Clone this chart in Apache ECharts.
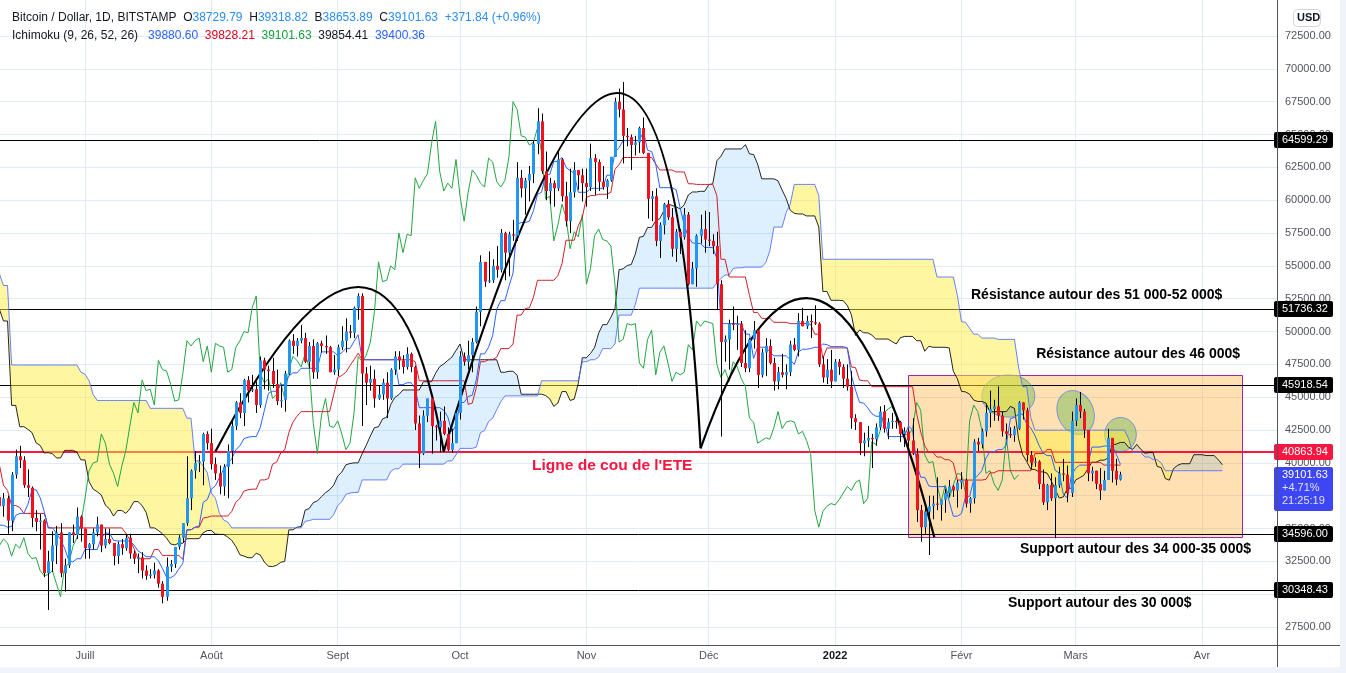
<!DOCTYPE html>
<html lang="fr">
<head>
<meta charset="utf-8">
<title>Bitcoin / Dollar — Ichimoku</title>
<script src="https://cdn.jsdelivr.net/npm/echarts@6/dist/echarts.min.js"></script>
<style>
html,body{margin:0;padding:0;background:#f0f3fa;}
#chart{width:1340px;height:667px;background:#ffffff;}
</style>
</head>
<body>
<div id="chart"></div>
<script>
// ================= DATA =================
const startDate = '2021-03-20';
const firstOpen = 58300;
// daily closes from 2021-03-20 to 2022-03-12 (open = previous close)
const closes = [
  // Mar 20-31 2021
  58100,57400,54100,54300,52300,51300,55000,55800,55900,57600,58800,58900,
  // Apr
  58700,59000,57100,58200,58700,57900,56000,58000,58100,59800,59900,59800,63500,62900,63200,61400,60000,56200,55700,56500,54000,51700,51100,50100,49100,54000,55000,54800,53600,57700,
  // May
  57800,56600,57200,53200,57500,56400,57400,58900,58300,55800,56700,49200,49700,49900,46800,46400,43600,42900,37000,40700,37300,37500,34700,38800,38400,39300,38500,35700,34600,35700,37300,
  // Jun
  36700,37600,39200,36900,35500,35800,33600,33400,37400,36700,37300,35600,39100,40500,40200,38300,38100,35800,35500,35600,31600,32500,33700,34700,31600,32200,34700,34500,35900,35000,
  // Jul
  33500,33800,34700,35300,33700,34200,33900,32900,33800,33500,34300,33100,32700,32800,31800,31400,31500,31800,30800,29800,32100,32300,33600,34300,35400,37300,39400,40000,40100,42200,41500,
  // Aug
  39900,39200,38200,39700,40900,42800,44600,43800,46300,45500,45600,44400,47800,47100,47000,46000,44700,44800,46800,49300,48900,49300,49500,47700,48900,46900,49100,48900,48800,46900,47100,
  // Sep
  48800,49300,50000,49900,51800,52700,46800,46100,46400,44900,45200,46100,44900,47100,48100,47800,47300,48300,47300,43000,40700,43600,44900,42800,42700,43200,42200,41000,41500,43800,
  // Oct
  48100,47700,48200,49200,51500,55300,53800,53900,55000,54700,57500,56000,57400,57300,61700,60900,61500,62000,64300,66000,62200,60700,61300,60900,63100,60300,58400,60600,62300,61900,61300,
  // Nov
  61000,63200,62900,61400,61000,61500,63300,67500,66900,64900,64800,64200,64400,65500,63600,60100,60300,56900,58100,59700,58700,56300,57600,57200,58900,53600,54800,57300,57800,57000,
  // Dec
  56900,56500,53600,49200,49400,50600,50500,50600,47600,47200,49400,50100,46700,48400,48900,47600,46200,46900,46700,46900,49000,48600,50800,50400,50800,50700,50600,47500,46500,47100,46200,
  // Jan 2022
  47700,47300,46400,45800,43400,43100,41500,41700,41900,41800,42700,43900,42600,43100,43200,43100,42200,42400,41700,40700,36400,35100,36300,36700,36900,36800,37200,37700,38200,37900,38500,
  // Feb
  38700,36900,37300,41600,41400,42400,43800,44100,44300,43600,42400,42200,42100,42600,44600,44000,40600,40000,40100,38400,37000,38300,37300,38300,39200,39100,37700,43200,
  // Mar 1-12
  44400,43900,42500,39200,39400,38400,37900,38700,41900,39400,38729.79,39101.63
];
const highs = [
  59900,58600,58400,55800,57200,53200,55100,56600,56600,58400,59400,59800,
  59500,60100,59800,58500,59300,59400,58600,58100,58900,61200,60700,61200,63700,64900,63800,63500,62500,60400,57500,57000,56800,55400,52000,51200,50500,54300,55400,56400,55200,57900,
  58400,57900,58900,57200,57900,58300,58600,59500,59300,59500,57000,58000,51400,51500,50700,49700,46600,45800,43500,42500,42200,38800,38300,39900,39800,40900,40400,38200,37300,36400,37500,
  37900,38200,39500,39200,37900,36500,36800,34100,37500,38400,37700,37500,39300,41000,41300,40500,39500,38200,36400,36100,35700,33300,34800,35200,35400,32700,34700,35300,36600,36000,
  35000,33900,35000,35900,35300,35000,35000,33900,34000,34200,34600,34600,33300,33100,33200,32200,31900,32400,31900,31000,32800,32600,33600,34500,35400,40500,39500,40900,40600,42300,42400,
  42600,40400,39800,39900,41400,43300,44700,45300,46400,46600,46700,46200,48100,48000,47400,48000,47100,45900,47000,49400,49800,49500,50500,49900,49200,49400,49200,49300,49700,48900,48200,
  49000,50400,51000,50500,51900,52900,52900,47300,47400,47100,45900,46400,46900,47200,48500,48500,48200,48800,48400,47400,43600,44000,44900,45100,42900,43900,44300,42700,42600,44100,
  48500,48400,49300,49500,51900,55800,55300,56100,55500,56500,57800,57600,57600,58500,62900,62300,61700,62600,64500,67000,66600,63700,61700,61500,63700,63200,61400,62400,62900,62300,62400,
  62400,64300,63500,63100,62600,61600,63300,67800,68500,69000,65500,65000,64900,65600,66300,63500,60700,60900,58300,59800,60000,59400,57800,57800,59400,59100,55300,57400,58900,59200,
  59100,57400,57600,53900,49700,50900,51900,51200,50800,50100,49500,50800,50200,48700,49500,49400,48000,47300,48300,47500,49300,49500,51400,51800,51200,51300,52000,50700,48100,47900,48600,
  47900,47900,47500,47500,47000,43700,43100,42300,42800,42200,43000,44300,44400,43400,43800,43500,43200,42700,42600,43400,41100,36800,36600,37500,37500,38900,37200,38000,38700,38300,38700,
  39300,38800,37400,41800,41900,42600,44500,45500,44800,45821,43900,43000,42700,42800,44700,44600,44200,40900,40400,40200,39500,38400,39200,38900,39700,40300,39800,43900,
  44900,45400,44100,42500,39700,39400,39600,39400,42594,41900,40300,39318.82
];
const lows = [
  57800,55500,53700,53000,51700,50400,51300,53900,54700,54900,57000,57900,
  57900,58500,57000,56500,56800,57400,55500,55700,57700,57900,59200,59400,59800,61300,62000,60000,59600,52000,54200,53400,53700,50500,47500,48800,47000,48800,53300,53900,52400,53100,
  57000,56100,56500,53100,52900,55200,55300,56900,56300,53600,54400,48600,46000,48900,46600,43900,42100,42300,30000,35000,33600,35300,31100,34400,36500,37800,37200,34800,33400,33400,34200,
  35700,35900,37200,35600,34800,35300,33300,31000,32400,35800,35900,34600,34800,38800,39600,38100,37400,35100,34800,33400,31300,28800,31700,32300,31300,30200,32000,33900,34200,34000,
  32700,32700,33400,34400,33200,33500,33800,32200,32300,33000,33300,32700,32300,31600,31200,31100,31200,31200,30500,29300,29500,31700,32000,33400,33900,35200,36400,38800,39300,38300,41000,
  39500,38700,37600,37500,37300,39900,42500,43400,42800,44600,45400,43800,44200,45600,45500,45700,44400,44200,43900,46700,48300,48100,49100,47600,47200,46400,46400,48400,48300,46900,46700,
  46600,48600,48400,49500,49500,50900,42800,44400,45500,44200,44800,44800,43400,44800,46700,47100,46800,47100,46900,42500,39600,40600,43100,40700,41700,40800,42100,40900,40800,41500,
  43300,47400,47100,46900,49100,50400,53400,53700,53700,54100,54500,53900,54200,56900,56900,60200,58900,59900,61300,63500,62000,60000,59700,59500,60700,59900,58000,57500,60200,60800,59900,
  59500,60700,60400,60700,60800,60100,61400,63300,66300,62800,64100,62300,63400,63600,63500,58600,58400,56500,55600,57400,58500,55700,55300,55900,57000,53500,53600,53400,56700,56000,
  56500,55900,51700,42000,47700,47100,50100,48600,47300,46900,46900,48700,45700,46500,46600,47500,45500,45600,46500,45600,46600,48500,48100,50400,50200,49500,50500,47300,46100,46000,45700,
  46200,46700,45700,45500,42600,42500,40600,40500,41200,39600,41300,42500,42300,41800,42600,42600,41600,41200,41300,40600,35500,34000,34600,32980,35700,36400,35600,36200,37400,37400,36600,
  38000,36600,36200,36900,40900,41100,42000,42700,43200,43200,42000,41800,41900,41600,42500,43300,40100,39500,39700,38000,36800,36400,37100,34256,38100,38600,37000,37400,
  42800,43400,41900,38600,38600,38000,37167,37900,38700,38500,38300,38653.89
];

// axis ticks
const monthStarts = ['2021-07-01','2021-08-01','2021-09-01','2021-10-01','2021-11-01','2021-12-01','2022-01-01','2022-02-01','2022-03-01','2022-04-01'];
const monthLabels = ['Juill','Août','Sept','Oct','Nov','Déc','2022','Févr','Mars','Avr'];
const priceTicks = [27500,30000,32500,35000,37500,40000,42500,45000,47500,50000,52500,55000,57500,60000,62500,65000,67500,70000,72500];

// drawings (anchored in date / price space)
const levelPrices = [64599.29, 51736.32, 45918.54, 34596.00, 30348.43];
const necklinePrice = 40863.94;
const zoneDates = ['2022-01-19','2022-04-11'];
const zonePrices = [34350, 46690];
const ellipseDates = ['2022-02-12T12:00','2022-03-01','2022-03-12'];
const ellipsePrices = [45090, 43830, 42160];
// head & shoulders arcs: start, apex, end (+ extension of the curve past its end)
const arcStarts = [['2021-08-02', 40860], ['2021-09-27', 40860], ['2021-11-29', 41110]];
const arcApexes = [['2021-09-06', 53390], ['2021-11-08T12:00', 68160], ['2021-12-24T21:00', 52550]];
const arcEnds   = [['2021-09-27', 40860], ['2021-11-29', 41110], ['2022-01-18T22:00', 41110]];
const arcExtend = [1, 1, 1.131];
const noteTexts = ["Ligne de cou de l'ETE", 'Résistance autour des 51 000-52 000$', 'Résistance autour des 46 000$', 'Support autour des 34 000-35 000$', 'Support autour des 30 000$'];
const noteDates = ['2021-11-07T08:00','2022-02-03T08:00','2022-02-19T08:00','2022-02-15T08:00','2022-02-12T10:00'];
const notePrices = [39760, 52780, 48290, 33440, 29330];

// header texts
const headerTitle = 'Bitcoin / Dollar, 1D, BITSTAMP';
const ohlcKeys = ['O','H','B','C'];
const ohlcValues = ['38729.79','39318.82','38653.89','39101.63'];
const changeText = '+371.84 (+0.96%)';
const ichimokuTitle = 'Ichimoku (9, 26, 52, 26)';
const ichimokuValues = ['39880.60','39828.21','39101.63','39854.41','39400.36'];
const lastPriceTag = ['39101.63','+4.71%','21:25:19'];

// ================= STYLE / LAYOUT =================
const X_MIN = 82.15, X_MAX = 395.4;
const Y_MIN = 26131, Y_MAX = 75241;
const UP = '#2196f3', DOWN = '#f2121f';
const RED = '#f7163f', TAG_BLUE = '#3d46f2';
const C_TENKAN = '#2962ff', C_KIJUN = '#d0202c', C_CHIKOU = '#24a543', C_SPANA = '#000000', C_SPANB = '#4b6cff';
const FONT = 'Liberation Sans';
const ellipseShape = [{days: 6.5, usd: 1610, rot: 0}, {days: 4.4, usd: 1720, rot: 0.42}, {days: 3.9, usd: 1300, rot: 0}];

// ================= HELPERS =================
const DAY = 86400000;
const t0 = Date.parse(startDate + 'T00:00Z');
function dayIndex(s) { return (Date.parse(s.length === 10 ? s + 'T00:00Z' : s + 'Z') - t0) / DAY; }

const N = closes.length;
if (highs.length !== N || lows.length !== N) console.error('length mismatch', N, highs.length, lows.length);
const opens = closes.map((c, i) => i === 0 ? firstOpen : closes[i - 1]);

function midRange(i, len) {
  if (i - len + 1 < 0) return null;
  let h = -Infinity, l = Infinity;
  for (let k = i - len + 1; k <= i; k++) { if (highs[k] > h) h = highs[k]; if (lows[k] < l) l = lows[k]; }
  return (h + l) / 2;
}
const SHIFT = 25;
const tenkan = [], kijun = [], chikou = [], spanA = [], spanB = [];
for (let i = 0; i < N; i++) {
  const t = midRange(i, 9), k = midRange(i, 26), b = midRange(i, 52);
  if (t !== null) tenkan.push([i, t]);
  if (k !== null) kijun.push([i, k]);
  if (i - SHIFT >= 0) chikou.push([i - SHIFT, closes[i]]);
  if (t !== null && k !== null) spanA[i + SHIFT] = (t + k) / 2;
  if (b !== null) spanB[i + SHIFT] = b;
}
const spanALine = [], spanBLine = [];
const cloudRuns = [];
let run = null;
for (let x = 0; x < N + SHIFT; x++) {
  const a = spanA[x], b = spanB[x];
  if (a !== undefined) spanALine.push([x, a]);
  if (b !== undefined) spanBLine.push([x, b]);
  if (a === undefined || b === undefined) continue;
  const bull = a >= b;
  if (!run) { run = {bull, pts: [[x, a, b]]}; cloudRuns.push(run); continue; }
  if (bull !== run.bull) {
    const p = run.pts[run.pts.length - 1];
    const d0 = p[1] - p[2], d1 = a - b, t = d0 / (d0 - d1);
    const xc = p[0] + t * (x - p[0]), yc = p[1] + t * (a - p[1]);
    run.pts.push([xc, yc, yc]);
    run = {bull, pts: [[xc, yc, yc]]};
    cloudRuns.push(run);
  }
  run.pts.push([x, a, b]);
}

const candleData = closes.map((c, i) => [i, opens[i], c, Math.min(lows[i], opens[i], c), Math.max(highs[i], opens[i], c)]);
const monthIdx = monthStarts.map(dayIndex);

// ================= RENDERERS =================
function renderCandle(params, api) {
  const i = api.value(0), o = api.value(1), c = api.value(2), l = api.value(3), h = api.value(4);
  const pO = api.coord([i, o]), pC = api.coord([i, c]), pL = api.coord([i, l]), pH = api.coord([i, h]);
  const x = Math.round(pO[0]);
  const top = Math.min(pO[1], pC[1]), bot = Math.max(pO[1], pC[1]);
  return {type: 'group', children: [
    {type: 'line', shape: {x1: x + 0.5, y1: pH[1], x2: x + 0.5, y2: pL[1]}, style: {stroke: '#000', lineWidth: 1}},
    {type: 'rect', shape: {x: x - 1, y: top, width: 3, height: Math.max(1, bot - top)}, style: {fill: c >= o ? UP : DOWN}}
  ]};
}
function renderCloud(params, api) {
  const r = cloudRuns[params.dataIndex];
  const upper = r.pts.map(p => api.coord([p[0], p[1]]));
  const lower = r.pts.map(p => api.coord([p[0], p[2]])).reverse();
  return {type: 'polygon', shape: {points: upper.concat(lower)},
    style: {fill: r.bull ? 'rgba(33,150,243,0.15)' : 'rgba(255,238,70,0.5)'}};
}
function renderZone(params, api) {
  const a = api.coord([api.value(0), api.value(1)]);
  const b = api.coord([api.value(2), api.value(3)]);
  return {type: 'rect', shape: {x: Math.round(a[0]) + 0.5, y: Math.round(b[1]) + 0.5, width: Math.round(b[0] - a[0]), height: Math.round(a[1] - b[1])},
    style: {fill: 'rgba(255,152,0,0.3)', stroke: '#9c27b0', lineWidth: 1}};
}
function renderEllipse(params, api) {
  const s = ellipseShape[params.dataIndex];
  const c = api.coord([api.value(0), api.value(1)]);
  const rx = api.size([s.days, 0])[0], ry = api.size([0, s.usd])[1];
  return {type: 'ellipse', x: c[0], y: c[1], rotation: s.rot, shape: {cx: 0, cy: 0, rx: rx, ry: ry},
    style: {fill: 'rgba(80,175,60,0.38)', stroke: 'rgba(41,98,255,0.55)', lineWidth: 1}};
}
function renderArc(params, api) {
  const k = params.dataIndex;
  const toPx = p => api.coord([dayIndex(p[0]), p[1]]);
  const S = toPx(arcStarts[k]), A = toPx(arcApexes[k]), E = toPx(arcEnds[k]);
  const C = [2 * A[0] - (S[0] + E[0]) / 2, 2 * A[1] - (S[1] + E[1]) / 2];
  const T = arcExtend[k];
  const P1 = [S[0] + T * (C[0] - S[0]), S[1] + T * (C[1] - S[1])];
  const q = (a, c, e) => (1 - T) * (1 - T) * a + 2 * T * (1 - T) * c + T * T * e;
  const B = [q(S[0], C[0], E[0]), q(S[1], C[1], E[1])];
  return {type: 'bezierCurve', shape: {x1: S[0], y1: S[1], x2: B[0], y2: B[1], cpx1: P1[0], cpy1: P1[1]},
    style: {stroke: '#000000', lineWidth: 2.2, fill: 'none'}};
}
function makeLevelRenderer(color, width) {
  return function (params, api) {
    const cs = params.coordSys;
    let y = api.coord([api.value(0), api.value(1)])[1];
    y = width % 2 ? Math.round(y) + 0.5 : Math.round(y);
    return {type: 'line', shape: {x1: cs.x, y1: y, x2: cs.x + cs.width, y2: y}, style: {stroke: color, lineWidth: width}};
  };
}
const tagItems = levelPrices.map(p => ({price: p, lines: [p.toFixed(2)], bg: '#000000'}))
  .concat([{price: necklinePrice, lines: [necklinePrice.toFixed(2)], bg: RED},
           {price: closes[N - 1], lines: lastPriceTag, bg: TAG_BLUE}]);
function renderTag(params, api) {
  const cs = params.coordSys;
  const it = tagItems[params.dataIndex];
  const y = Math.round(api.coord([api.value(0), api.value(1)])[1]);
  const x0 = cs.x + cs.width - 3;
  const n = it.lines.length;
  const h = n === 1 ? 16 : 44;
  const children = [{type: 'rect', shape: {x: x0, y: y - 8, width: 59, height: h, r: 2}, style: {fill: it.bg}}];
  it.lines.forEach((t, k) => children.push({type: 'text', x: x0 + 8, y: y + k * 13,
    style: {text: t, fill: k === 0 ? '#ffffff' : '#dde1ff', fontSize: 11, fontFamily: FONT, align: 'left', verticalAlign: 'middle'}}));
  return {type: 'group', children};
}
function renderNote(params, api) {
  const i = params.dataIndex;
  const p = api.coord([api.value(0), api.value(1)]);
  const neck = i === 0;
  return {type: 'text', x: p[0], y: p[1], style: {text: noteTexts[i], fill: neck ? RED : '#000000',
    fontSize: neck ? 15.5 : 14, fontWeight: 'bold', fontFamily: FONT, align: neck ? 'center' : 'left', verticalAlign: 'middle'}};
}

const lineSeries = (name, data, color, z, extra) => Object.assign({
  name, type: 'line', data, showSymbol: false, symbol: 'none', z, silent: true,
  lineStyle: {color, width: 1}, connectNulls: false, clip: true
}, extra || {});

// header rich text
const vBlue = '#2a8cf0';
const rich = {
  t: {fill: '#131722', color: '#131722', fontSize: 12, fontFamily: FONT},
  k: {fill: '#131722', color: '#131722', fontSize: 12, fontFamily: FONT},
  v: {fill: vBlue, color: vBlue, fontSize: 12, fontFamily: FONT},
  i0: {fill: C_TENKAN, color: C_TENKAN, fontSize: 12, fontFamily: FONT},
  i1: {fill: '#e0001b', color: '#e0001b', fontSize: 12, fontFamily: FONT},
  i2: {fill: '#16a03c', color: '#16a03c', fontSize: 12, fontFamily: FONT},
  i3: {fill: '#131722', color: '#131722', fontSize: 12, fontFamily: FONT},
  i4: {fill: C_TENKAN, color: C_TENKAN, fontSize: 12, fontFamily: FONT}
};
const line1 = '{t|' + headerTitle + '}  ' + ohlcKeys.map((k, i) => '{k|' + k + '}{v|' + ohlcValues[i] + '}').join('  ') + '  {v|' + changeText + '}';
const line2 = '{t|' + ichimokuTitle + '}   ' + ichimokuValues.map((v, i) => '{i' + i + '|' + v + '}').join('  ');

const option = {
  animation: false,
  grid: {left: 0, right: 63, top: 0, bottom: 22, containLabel: false},
  xAxis: {
    type: 'value', min: X_MIN, max: X_MAX,
    axisLine: {show: false},
    axisTick: {show: false, customValues: monthIdx},
    axisLabel: {
      customValues: monthIdx, color: '#50535e', fontSize: 11, fontFamily: FONT, margin: 5,
      formatter: v => {
        let best = 0; monthIdx.forEach((m, k) => { if (Math.abs(m - v) < Math.abs(monthIdx[best] - v)) best = k; });
        const s = monthLabels[best];
        return s === '2022' ? '{b|' + s + '}' : s;
      },
      rich: {b: {fontWeight: 'bold', fontSize: 11, fontFamily: FONT, color: '#131722'}}
    },
    splitLine: {show: true, lineStyle: {color: '#e2ebf4', width: 1}}
  },
  yAxis: {
    type: 'value', position: 'right', min: Y_MIN, max: Y_MAX,
    axisLine: {show: false},
    axisTick: {show: false, customValues: priceTicks},
    axisLabel: {customValues: priceTicks, formatter: v => v.toFixed(2), color: '#50535e', fontSize: 11, fontFamily: FONT, margin: 8},
    splitLine: {show: true, lineStyle: {color: '#e2ebf4', width: 1}}
  },
  graphic: [
    {type: 'line', z: 50, shape: {x1: 0, y1: 645.5, x2: 1340, y2: 645.5}, style: {stroke: '#50535e', lineWidth: 1}},
    {type: 'line', z: 50, shape: {x1: 1277.5, y1: 0, x2: 1277.5, y2: 667}, style: {stroke: '#50535e', lineWidth: 1}},
    {type: 'text', left: 12, top: 12, z: 100, style: {text: line1, rich, fontSize: 12, fontFamily: FONT, fill: '#131722'}},
    {type: 'text', left: 12, top: 30, z: 100, style: {text: line2, rich, fontSize: 12, fontFamily: FONT, fill: '#131722'}},
    {type: 'rect', left: 1293, top: 9, z: 100, shape: {width: 27, height: 17, r: 4}, style: {fill: '#ffffff', stroke: '#d1d4dc', lineWidth: 1}},
    {type: 'text', left: 1297, top: 12, z: 101, style: {text: 'USD', fontSize: 11, fontWeight: 'bold', fontFamily: FONT, fill: '#131722'}}
  ],
  series: [
    {name: 'zone', type: 'custom', z: 1, clip: true, silent: true, renderItem: renderZone,
      data: [[dayIndex(zoneDates[0]), zonePrices[0], dayIndex(zoneDates[1]), zonePrices[1]]]},
    {name: 'levels', type: 'custom', z: 1, clip: true, silent: true, renderItem: makeLevelRenderer('#000000', 1),
      data: levelPrices.map(p => [X_MIN, p])},
    {name: 'neckline', type: 'custom', z: 1, clip: true, silent: true, renderItem: makeLevelRenderer(RED, 2),
      data: [[X_MIN, necklinePrice]]},
    {name: 'ellipses', type: 'custom', z: 1, clip: true, silent: true, renderItem: renderEllipse,
      data: ellipseDates.map((d, i) => [dayIndex(d), ellipsePrices[i]])},
    {name: 'cloud', type: 'custom', z: 2, clip: true, silent: true, renderItem: renderCloud,
      data: cloudRuns.map(r => [r.pts[0][0], r.pts[0][1]])},
    lineSeries('Senkou A', spanALine, C_SPANA, 3, {lineStyle: {color: C_SPANA, width: 1, opacity: 0.85}}),
    lineSeries('Senkou B', spanBLine, C_SPANB, 3, {lineStyle: {color: C_SPANB, width: 1, opacity: 0.85}}),
    lineSeries('Chikou', chikou, C_CHIKOU, 3),
    lineSeries('Kijun', kijun, C_KIJUN, 3),
    lineSeries('Tenkan', tenkan, C_TENKAN, 3),
    {name: 'ETE', type: 'custom', z: 4, clip: true, silent: true, renderItem: renderArc,
      data: arcStarts.map(p => [dayIndex(p[0]), p[1]])},
    {name: 'BTCUSD', type: 'custom', z: 5, clip: true, silent: true, renderItem: renderCandle, data: candleData,
      encode: {x: 0, y: [1, 2, 3, 4]}},
    {name: 'notes', type: 'custom', z: 6, clip: false, silent: true, renderItem: renderNote,
      data: noteDates.map((d, i) => [dayIndex(d), notePrices[i]])},
    {name: 'tags', type: 'custom', z: 10, clip: false, silent: true, renderItem: renderTag,
      data: tagItems.map(t => [X_MAX, t.price])}
  ]
};

const chart = echarts.init(document.getElementById('chart'), null, {renderer: 'canvas'});
chart.setOption(option);
</script>
</body>
</html>
